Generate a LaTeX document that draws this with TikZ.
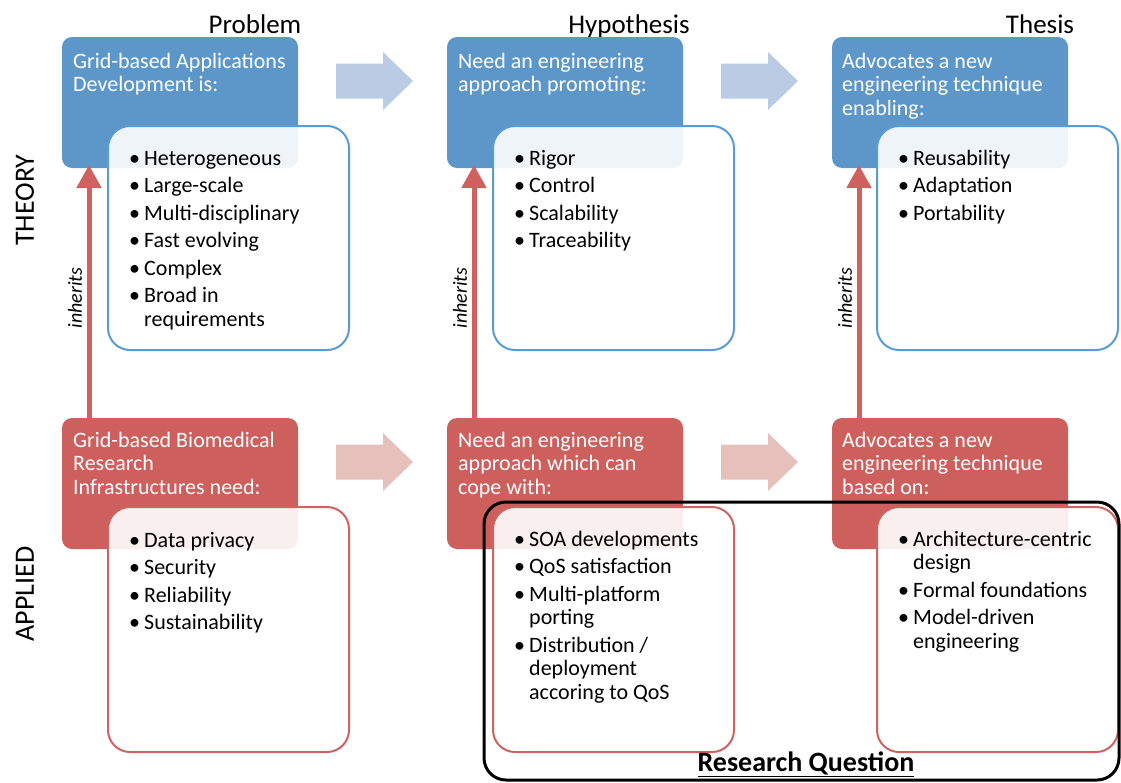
\documentclass[tikz,border=0pt]{standalone}
\usepackage{fontspec}
\setmainfont{Carlito}
\usetikzlibrary{arrows.meta,calc}

\definecolor{hdblue}{HTML}{5D96C9}
\definecolor{lnblue}{HTML}{5B9BD5}
\definecolor{hdred}{HTML}{CD605D}
\definecolor{lnred}{HTML}{D0635F}
\definecolor{arrblue}{HTML}{BACCE3}
\definecolor{arrred}{HTML}{E6C1BB}
\definecolor{inhred}{HTML}{D0615E}

% bullet marker and hanging indent for wrapped items
\newcommand\bl{\makebox[15pt][l]{\textbullet}}
\newcommand\cont{\hspace*{15pt}}
\newcommand\nx{\\[4pt]}

\tikzset{
  headbox/.style={rounded corners=10pt, minimum width=236pt, minimum height=131pt,
    anchor=north west, inner sep=0pt, outer sep=0pt},
  bluehead/.style={headbox, fill=hdblue},
  redhead/.style={headbox, fill=hdred},
  listbox/.style={rounded corners=22pt, line width=2pt, fill=white, fill opacity=0.9,
    minimum width=241pt, anchor=north west, inner sep=0pt, outer sep=0pt},
  bluelist/.style={listbox, draw=lnblue, minimum height=224pt},
  redlist/.style={listbox, draw=lnred, minimum height=245pt},
  headtext/.style={anchor=base west, inner sep=0pt, text=white,
    font=\fontsize{22}{23.5}\selectfont},
  listtext/.style={anchor=base west, inner sep=0pt, text=black,
    font=\fontsize{22}{23.5}\selectfont},
  colhead/.style={anchor=base, inner sep=0pt, font=\fontsize{27}{30}\selectfont},
  sidelabel/.style={rotate=90, inner sep=0pt, font=\fontsize{28}{30}\selectfont},
  inhlabel/.style={rotate=90, inner sep=0pt, font=\itshape\fontsize{20}{24}\selectfont},
  inh/.style={draw=inhred, line width=5pt, -{Triangle[width=24pt,length=23pt]}},
  blockarrow/.pic={
    \fill[pic actions] (0,17.5) -- (47,17.5) -- (47,29) -- (77,0) -- (47,-29)
      -- (47,-17.5) -- (0,-17.5) -- cycle;
  },
  rqbox/.style={draw=black, line width=3pt, rounded corners=22pt, anchor=north west,
    minimum width=635pt, minimum height=278pt, inner sep=0pt, outer sep=0pt}
}

\begin{document}
\begin{tikzpicture}[x=1pt,y=-1pt]
\useasboundingbox (0,0) rectangle (1121,782);

% column titles
\node[colhead] (hprob) at (255,33) {Problem};
\node[colhead] (hhyp) at (629,33) {Hypothesis};
\node[colhead] (hthes) at (1040,33) {Thesis};

% row titles
\node[sidelabel] (ltheory) at (25,200) {THEORY};
\node[sidelabel] (lapplied) at (25,594) {APPLIED};

% filled header boxes
\node[bluehead] (b1) at (62,37) {};
\node[bluehead] (b2) at (447,37) {};
\node[bluehead] (b3) at (832,37) {};
\node[redhead] (r1) at (62,418) {};
\node[redhead] (r2) at (447,418) {};
\node[redhead] (r3) at (832,418) {};

% outlined list boxes
\node[bluelist] (lb1) at (108,126) {};
\node[bluelist] (lb2) at (493,126) {};
\node[bluelist] (lb3) at (877,126) {};
\node[redlist] (lr1) at (108,507) {};
\node[redlist] (lr2) at (493,507) {};
\node[redlist] (lr3) at (877,507) {};

% header texts
\node[headtext] (tb1) at (73,68) {\parbox[t]{250pt}{Grid-based Applications\\Development is:}};
\node[headtext] (tb2) at (458,68) {\parbox[t]{250pt}{Need an engineering\\approach promoting:}};
\node[headtext] (tb3) at (842,68) {\parbox[t]{250pt}{Advocates a new\\engineering technique\\enabling:}};
\node[headtext] (tr1) at (73,447) {\parbox[t]{250pt}{Grid-based Biomedical\\Research\\Infrastructures need:}};
\node[headtext] (tr2) at (458,447) {\parbox[t]{250pt}{Need an engineering\\approach which can\\cope with:}};
\node[headtext] (tr3) at (842,447) {\parbox[t]{250pt}{Advocates a new\\engineering technique\\based on:}};

% bullet lists
\node[listtext] (ib1) at (129,165) {\parbox[t]{230pt}{\bl Heterogeneous\nx\bl Large-scale\nx\bl Multi-disciplinary\nx\bl Fast evolving\nx\bl Complex\nx\bl Broad in\\\cont requirements}};
\node[listtext] (ib2) at (514,165) {\parbox[t]{230pt}{\bl Rigor\nx\bl Control\nx\bl Scalability\nx\bl Traceability}};
\node[listtext] (ib3) at (898,165) {\parbox[t]{230pt}{\bl Reusability\nx\bl Adaptation\nx\bl Portability}};
\node[listtext] (ir1) at (129,547) {\parbox[t]{230pt}{\bl Data privacy\nx\bl Security\nx\bl Reliability\nx\bl Sustainability}};
\node[listtext] (ir2) at (514,546) {\parbox[t]{230pt}{\bl SOA developments\nx\bl QoS satisfaction\nx\bl Multi-platform\\\cont porting\nx\bl Distribution /\\\cont deployment\\\cont accoring to QoS}};
\node[listtext] (ir3) at (898,546) {\parbox[t]{230pt}{\bl Architecture-centric\\\cont design\nx\bl Formal foundations\nx\bl Model-driven\\\cont engineering}};

% progression arrows between columns
\pic[fill=arrblue] at ($(b1.north east)+(38,44)$) {blockarrow};
\pic[fill=arrblue] at ($(b2.north east)+(38,44)$) {blockarrow};
\pic[fill=arrred] at ($(r1.north east)+(38,44)$) {blockarrow};
\pic[fill=arrred] at ($(r2.north east)+(38,44)$) {blockarrow};

% inheritance arrows from applied to theory
\draw[inh] ($(r1.north west)+(27,1)$) -- ($(b1.south west)+(27,-3)$);
\draw[inh] ($(r2.north west)+(27,1)$) -- ($(b2.south west)+(27,-3)$);
\draw[inh] ($(r3.north west)+(27,1)$) -- ($(b3.south west)+(27,-3)$);
\node[inhlabel] (inh1) at (75,298) {inherits};
\node[inhlabel] (inh2) at (460,298) {inherits};
\node[inhlabel] (inh3) at (845,298) {inherits};

% research question frame
\node[rqbox] (rq) at (484,502) {};
\node[anchor=base, inner sep=0pt, font=\bfseries\fontsize{28}{30}\selectfont] (rqlabel) at (806,771) {\underline{Research Question}};
\end{tikzpicture}
\end{document}
